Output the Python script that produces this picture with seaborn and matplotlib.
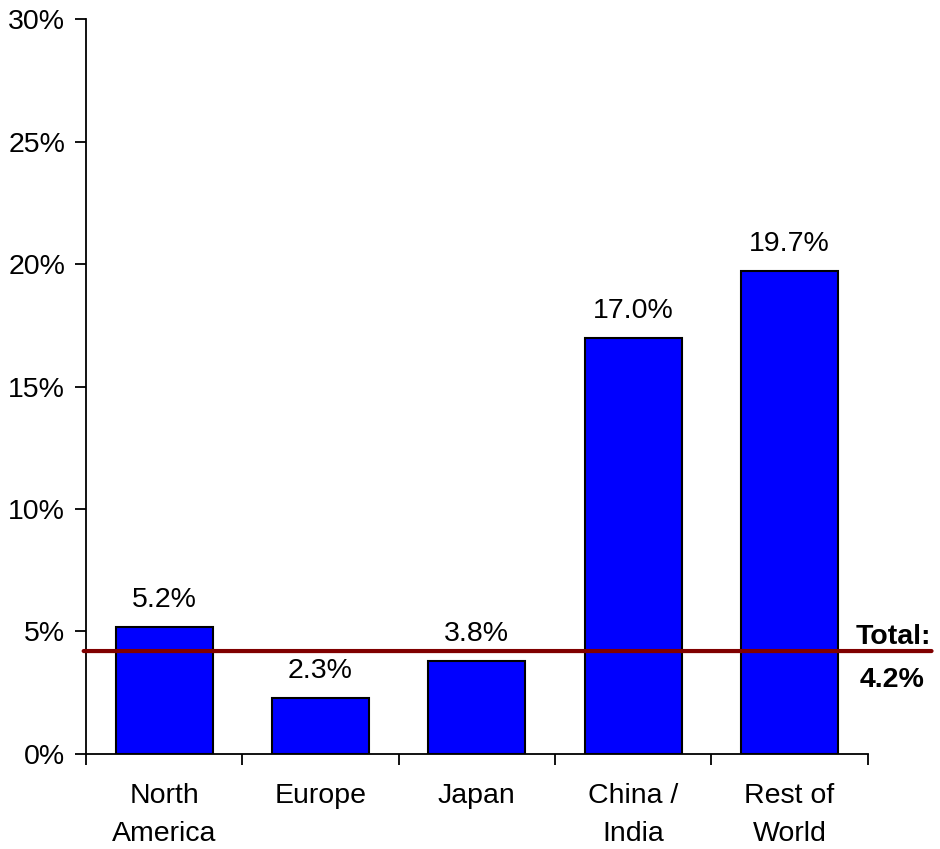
import matplotlib
matplotlib.use("Agg")
import matplotlib.pyplot as plt
import seaborn as sns
import pandas as pd
import numpy as np

regions = ["North\nAmerica", "Europe", "Japan", "China /\nIndia", "Rest of\nWorld"]
growth = [5.2, 2.3, 3.8, 17.0, 19.7]
total_growth = 4.2
y_ticks = [0, 5, 10, 15, 20, 25, 30]

sns.set_theme(style="white")
plt.rcParams["font.family"] = ["Liberation Sans", "DejaVu Sans"]
FS = 20.5

df = pd.DataFrame({"region": regions, "growth": growth})

fig = plt.figure(figsize=(9.4, 8.49), dpi=100)
ax = fig.add_axes([0.0915, 0.112, 0.8315, 0.8655])

sns.barplot(data=df, x="region", y="growth", color="#0000FF", saturation=1,
            edgecolor="black", linewidth=1.5, width=0.62, ax=ax)

ax.set_xlim(-0.5, len(regions) - 0.5)
ax.set_ylim(0, 30)
ax.set_yticks(y_ticks)
ax.set_yticklabels([f"{t}%" for t in y_ticks], fontsize=FS, color="black")

# category boundaries carry the tick marks; names sit centred below each bar
ax.set_xticks(np.arange(len(regions) + 1) - 0.5)
ax.set_xticklabels([""] * (len(regions) + 1))
ax.set_xticks(np.arange(len(regions)), minor=True)
ax.set_xticklabels(regions, minor=True, fontsize=FS, linespacing=1.6, color="black")
ax.tick_params(axis="x", which="minor", length=0, pad=21)
ax.tick_params(axis="x", which="major", length=8, width=1.3, direction="out", color="black", bottom=True)
ax.tick_params(axis="y", length=8, width=1.3, direction="out", color="black", left=True, pad=7)
ax.set_xlabel("")
ax.set_ylabel("")

for side in ["top", "right"]:
    ax.spines[side].set_visible(False)
for side in ["left", "bottom"]:
    ax.spines[side].set_color("black")
    ax.spines[side].set_linewidth(1.3)

for i, v in enumerate(growth):
    ax.annotate(f"{v:.1f}%", (i, v), xytext=(0, 10), textcoords="offset points",
                ha="center", va="bottom", fontsize=FS, color="black")

# overall growth reference line, running past the plot area to the right edge
ax.annotate("", xy=(0.991, total_growth), xytext=(0.089, total_growth),
            xycoords=("figure fraction", "data"), textcoords=("figure fraction", "data"),
            arrowprops=dict(arrowstyle="-", color="#800000", linewidth=3.0,
                            shrinkA=0, shrinkB=0),
            annotation_clip=False, zorder=5)
ax.annotate("Total:", (0.991, total_growth), xytext=(0, 5), textcoords="offset points",
            xycoords=("figure fraction", "data"), ha="right", va="baseline",
            fontsize=FS, fontweight="bold", color="black", annotation_clip=False)
ax.annotate(f"{total_growth:.1f}%", (0.991, total_growth), xytext=(-5, -26),
            textcoords="offset points", xycoords=("figure fraction", "data"),
            ha="right", va="baseline", fontsize=FS, fontweight="bold", color="black",
            annotation_clip=False)

fig.savefig("out.png", dpi=100)
